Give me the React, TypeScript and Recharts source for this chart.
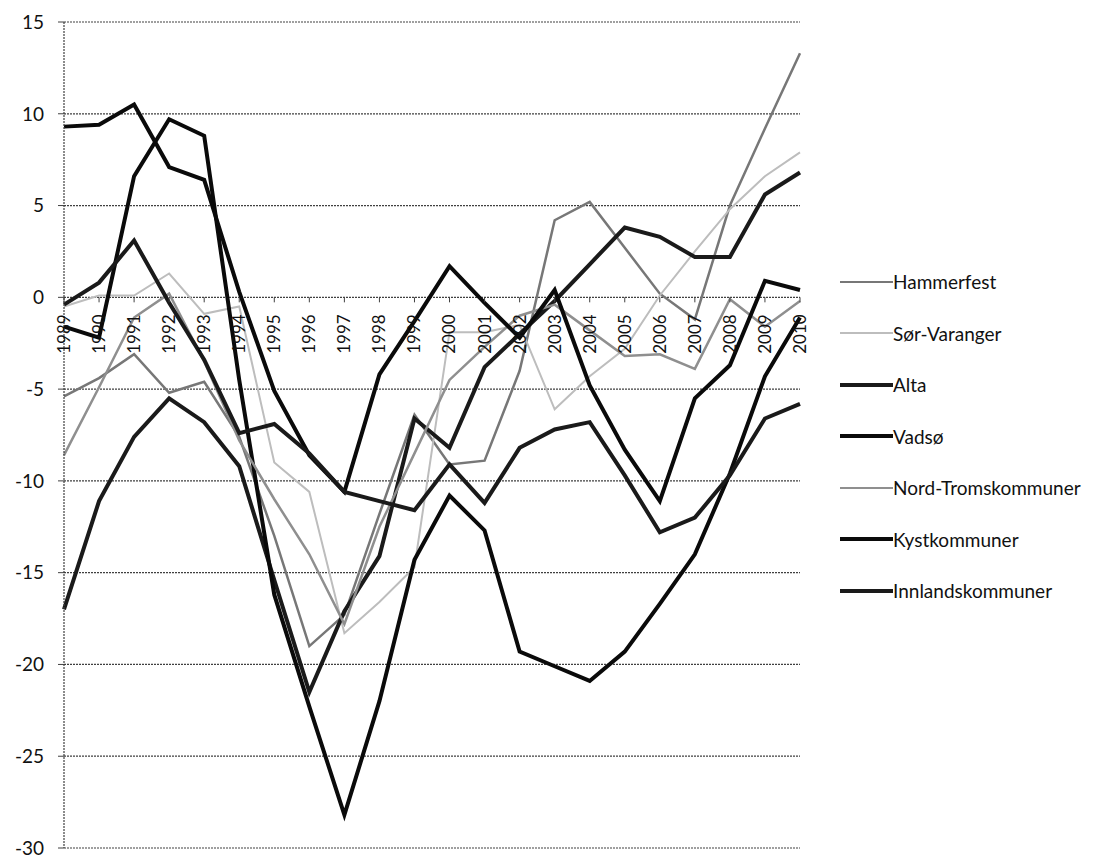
import { LineChart, Line, XAxis, YAxis, CartesianGrid } from "recharts";

// Categories (years) and y ticks
const YEARS = [
    "1989", "1990", "1991", "1992", "1993", "1994", "1995", "1996", "1997", "1998", "1999",
    "2000", "2001", "2002", "2003", "2004", "2005", "2006", "2007", "2008", "2009", "2010",
];
const Y_TICKS = [-30, -25, -20, -15, -10, -5, 0, 5, 10, 15];

// Series values
const HAMMERFEST = [-5.4, -4.4, -3.1, -5.2, -4.6, -7.6, -13.0, -19.0, -17.3, -11.8, -6.4, -9.1, -8.9, -4.0, 4.2, 5.2, 2.7, 0.2, -1.2, 5.0, 9.2, 13.3];
const SOR_VARANGER = [-0.5, 0.1, 0.1, 1.3, -0.9, -0.5, -9.0, -10.6, -18.3, -16.6, -14.7, -1.9, -1.9, -1.5, -6.1, -4.3, -2.8, 0.1, 2.5, 4.8, 6.6, 7.9];
const ALTA = [-17.0, -11.1, -7.6, -5.5, -6.8, -9.2, -15.4, -21.5, -17.1, -14.1, -6.6, -8.2, -3.8, -2.0, -0.2, 1.8, 3.8, 3.3, 2.2, 2.2, 5.6, 6.8];
const VADSO = [-1.6, -2.2, 6.6, 9.7, 8.8, -4.5, -16.2, -22.3, -28.2, -22.0, -14.3, -10.8, -12.7, -19.3, -20.1, -20.9, -19.3, -16.7, -14.0, -9.6, -4.3, -1.1];
const NORD_TROMS = [-8.6, -4.9, -1.1, 0.2, -3.5, -7.8, -11.0, -14.0, -17.8, -12.5, -8.5, -4.5, -2.7, -1.0, -0.4, -1.8, -3.2, -3.1, -3.9, -0.1, -1.6, -0.2];
const KYST = [9.3, 9.4, 10.5, 7.1, 6.4, 0.3, -5.1, -8.6, -10.6, -4.2, -1.3, 1.7, -0.3, -2.2, 0.4, -4.8, -8.3, -11.1, -5.5, -3.7, 0.9, 0.4];
const INNLAND = [-0.4, 0.8, 3.1, -0.3, -3.4, -7.4, -6.9, -8.5, -10.6, -11.1, -11.6, -9.1, -11.2, -8.2, -7.2, -6.8, -9.7, -12.8, -12.0, -9.7, -6.6, -5.8];

const SERIES = [
    { name: "Hammerfest", values: HAMMERFEST, color: "#777777", width: 2.5 },
    { name: "Sør-Varanger", values: SOR_VARANGER, color: "#bdbdbd", width: 2 },
    { name: "Alta", values: ALTA, color: "#1a1a1a", width: 4 },
    { name: "Vadsø", values: VADSO, color: "#0a0a0a", width: 4 },
    { name: "Nord-Tromskommuner", values: NORD_TROMS, color: "#8f8f8f", width: 2.5 },
    { name: "Kystkommuner", values: KYST, color: "#0a0a0a", width: 4 },
    { name: "Innlandskommuner", values: INNLAND, color: "#1a1a1a", width: 4 },
];

const data = YEARS.map((year, i) => {
    const row: Record<string, string | number> = { year };
    SERIES.forEach((s) => {
        row[s.name] = s.values[i];
    });
    return row;
});

const FONT = "Lato, 'Open Sans', sans-serif";
const GRID = "#404040";

// chart geometry
const W = 1104;
const H = 851;
const MARGIN = { top: 14, right: 312, bottom: 10, left: 0 };
const X_AXIS_H = 1;
const Y_MIN = -30;
const Y_MAX = 15;
const PLOT_TOP = MARGIN.top;
const PLOT_BOTTOM = H - MARGIN.bottom - X_AXIS_H;
const ZERO_Y = PLOT_TOP + ((Y_MAX - 0) / (Y_MAX - Y_MIN)) * (PLOT_BOTTOM - PLOT_TOP);

// year labels sit on the zero line, rotated
function YearTick(props: any) {
    const { x, payload } = props;
    const ty = ZERO_Y + 17;
    return (
        <g>
            <line x1={x} y1={ZERO_Y} x2={x} y2={ZERO_Y + 5} stroke={GRID} strokeWidth={1} />
            <text
                x={x}
                y={ty}
                transform={`rotate(-90 ${x} ${ty})`}
                textAnchor="end"
                dy="0.35em"
                fontSize={17}
                fontFamily={FONT}
                fill="#111"
            >
                {payload.value}
            </text>
        </g>
    );
}

export default function App() {
    return (
        <div style={{ position: "relative", width: W, height: H, background: "#fff" }}>
            <LineChart width={W} height={H} data={data} margin={MARGIN}>
                <CartesianGrid
                    vertical={false}
                    stroke={GRID}
                    strokeDasharray="2 1"
                    strokeWidth={1.2}
                />
                <XAxis
                    dataKey="year"
                    height={X_AXIS_H}
                    axisLine={false}
                    tickLine={false}
                    interval={0}
                    tick={(p: any) => <YearTick {...p} />}
                />
                <YAxis
                    domain={[Y_MIN, Y_MAX]}
                    ticks={Y_TICKS}
                    interval={0}
                    width={56}
                    axisLine={{ stroke: GRID, strokeDasharray: "2 1", strokeWidth: 1.2 }}
                    tickLine={{ stroke: GRID }}
                    tickSize={6}
                    tickMargin={14}
                    tick={{ fontSize: 19, fontFamily: FONT, fill: "#111" }}
                />
                {SERIES.map((s) => (
                    <Line
                        key={s.name}
                        type="linear"
                        dataKey={s.name}
                        stroke={s.color}
                        strokeWidth={s.width}
                        dot={false}
                        activeDot={false}
                        isAnimationActive={false}
                    />
                ))}
            </LineChart>

            {/* legend on the right */}
            <div style={{ position: "absolute", left: 832, top: 248, fontFamily: FONT, fontSize: 19, color: "#111" }}>
                {SERIES.map((s) => (
                    <div key={s.name} style={{ display: "flex", alignItems: "center", height: 51.5 }}>
                        <div style={{ width: 53, height: 0, borderTop: `${s.width}px solid ${s.color}` }} />
                        <span>{s.name}</span>
                    </div>
                ))}
            </div>
        </div>
    );
}
